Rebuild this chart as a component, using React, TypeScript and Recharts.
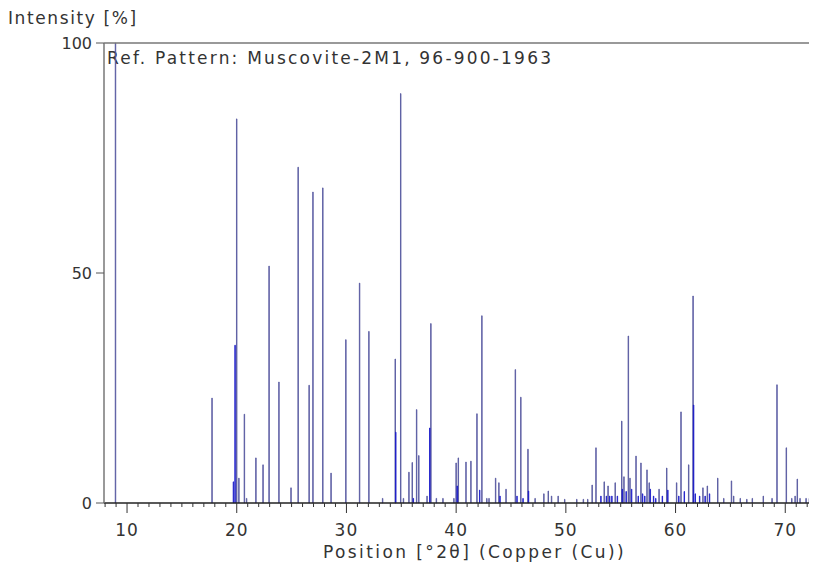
import { BarChart, Bar, Cell, XAxis, YAxis, ReferenceLine } from 'recharts'

// reference lines of the pattern (2theta, relative intensity)
const linePos = [
  8.95, 17.75, 20.0, 20.2, 20.7, 20.9, 21.75, 22.4, 22.95, 23.85, 24.95, 25.6,
  26.6, 26.95, 27.85, 28.6, 29.95, 31.2, 32.05, 33.3, 34.45, 34.95, 35.2, 35.7,
  36.0, 36.4, 36.6, 37.35, 37.7, 38.2, 38.8, 39.8, 40.0, 40.2, 40.9, 41.35,
  41.9, 42.35, 42.8, 43.0, 43.6, 43.9, 44.55, 45.4, 45.9, 46.55, 47.2, 48.0,
  48.4, 48.7, 49.3, 49.9, 51.0, 51.6, 52.0, 52.4, 52.75, 53.5, 53.85, 54.5,
  55.1, 55.3, 55.7, 55.85, 56.4, 56.85, 57.4, 57.6, 58.5, 59.2, 60.1, 60.5,
  61.2, 61.6, 62.5, 62.9, 63.85, 64.4, 65.1, 65.3, 65.9, 66.5, 67.0, 68.0,
  68.8, 69.25, 70.1, 70.6, 70.9, 71.1, 71.35, 71.9, 72.2, 72.5,
]
const lineInt = [
  100, 22.8, 83.5, 5.4, 19.3, 1, 9.8, 8.3, 51.5, 26.3, 3.3, 73,
  25.6, 67.6, 68.5, 6.5, 35.5, 47.8, 37.3, 1, 31.3, 89, 1, 6.7,
  8.8, 20.3, 10.3, 1.5, 39, 1, 1, 1, 8.7, 9.8, 8.9, 9.1,
  19.4, 40.7, 1, 1, 5.4, 4.4, 3, 29, 23, 11.7, 1, 2,
  2.6, 1.5, 1.5, 0.8, 0.8, 0.8, 0.8, 3.9, 12, 4.6, 3.7, 4.4,
  17.8, 5.7, 36.3, 5.4, 10.2, 8.7, 7.2, 4.4, 3, 7.6, 4.4, 19.8,
  8.3, 45, 3.3, 3.7, 5.4, 1, 4.8, 1.5, 1, 0.8, 1, 1.5,
  1, 25.7, 12, 1, 1.5, 5.2, 1, 1, 1, 2.4,
]

// overlapping lines, drawn darker
const densePos = [
  19.7, 19.85, 34.5, 36.1, 37.6, 40.1, 42.15, 44.0, 45.55, 46.1, 46.6, 53.2,
  53.7, 54.0, 54.2, 54.7, 55.15, 55.5, 56.0, 56.6, 57.0, 57.2, 57.7, 58.0,
  58.2, 58.8, 59.3, 60.3, 60.8, 61.65, 61.8, 62.2, 62.7, 63.1,
]
const denseInt = [
  4.6, 34.3, 15.4, 1, 16.3, 3.7, 2.8, 1.5, 1.5, 1, 2.6, 1.5,
  1.5, 1.5, 1.5, 1.5, 3, 2.5, 3, 1.5, 2, 1.5, 3, 1.5,
  1, 1.5, 2.8, 1.5, 2.5, 21.3, 2, 1.5, 1.5, 2,
]

const xTicks = Array.from({ length: 67 }, (_, i) => i + 8)
const yTicks = [0, 50, 100]

const data = [
  ...linePos.map((pos, i) => ({ pos, intensity: lineInt[i], dense: false })),
  ...densePos.map((pos, i) => ({ pos, intensity: denseInt[i], dense: true })),
]

const font = '"DejaVu Sans", Verdana, sans-serif'

function PosTick(props: any) {
  const { x, y, payload } = props
  const major = payload.value % 10 === 0
  return (
    <g>
      <line x1={x} x2={x} y1={y} y2={major ? y + 10 : y + 4} stroke="#333" strokeWidth={1} />
      {major && (
        <text x={x} y={y + 33} textAnchor="middle" fill="#333" fontSize={17} fontFamily={font} letterSpacing={1}>
          {payload.value}
        </text>
      )}
    </g>
  )
}

export default function App() {
  return (
    <div
      style={{
        position: 'relative',
        width: 801,
        height: 555,
        overflow: 'hidden',
        fontFamily: font,
        color: '#333',
      }}
    >
      <div style={{ position: 'absolute', left: 0, top: 0, fontSize: 17, letterSpacing: 1.6, whiteSpace: 'nowrap' }}>
        Intensity [%]
      </div>
      <div style={{ position: 'absolute', left: 99, top: 40, fontSize: 17, letterSpacing: 2.2, whiteSpace: 'nowrap' }}>
        Ref. Pattern: Muscovite-2M1, 96-900-1963
      </div>
      <div style={{ position: 'absolute', left: 315, top: 534, fontSize: 17, letterSpacing: 2.4, whiteSpace: 'nowrap' }}>
        Position [°2θ] (Copper (Cu))
      </div>
      <BarChart width={840} height={555} data={data} margin={{ top: 35, right: 0, left: 0, bottom: 0 }}>
        <XAxis
          type="number"
          dataKey="pos"
          domain={[7.9, 75.72]}
          ticks={xTicks}
          interval={0}
          allowDataOverflow
          tickSize={0}
          tickMargin={0}
          tick={<PosTick />}
          axisLine={{ stroke: '#222', strokeWidth: 1.5 }}
          height={60}
        />
        <YAxis
          type="number"
          domain={[0, 100]}
          ticks={yTicks}
          width={96}
          tickSize={8}
          tickMargin={4}
          tick={{ fill: '#333', fontSize: 16, fontFamily: font }}
          tickLine={{ stroke: '#555' }}
          axisLine={{ stroke: '#777', strokeWidth: 1.5 }}
        />
        <ReferenceLine y={100} stroke="#777" strokeWidth={1.5} />
        <Bar dataKey="intensity" barSize={3} isAnimationActive={false} strokeWidth={0.8}>
          {data.map((d, i) => (
            <Cell
              key={i}
              fill={d.dense ? '#2424d6' : '#8b8ed8'}
              stroke={d.dense ? '#1a1ac8' : '#50539a'}
            />
          ))}
        </Bar>
      </BarChart>
    </div>
  )
}
